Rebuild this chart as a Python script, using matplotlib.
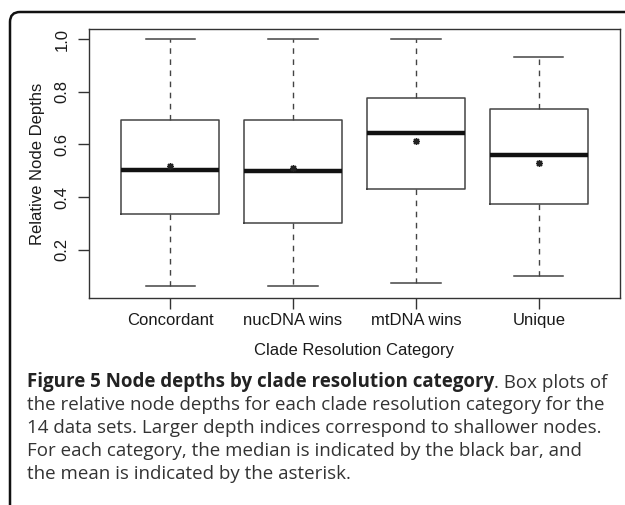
import numpy as np
import matplotlib
matplotlib.use("Agg")
import matplotlib.pyplot as plt
from matplotlib.path import Path
from matplotlib.patches import PathPatch

# Box statistics
categories = ["Concordant", "nucDNA wins", "mtDNA wins", "Unique"]
whislo = [0.063, 0.063, 0.073, 0.102]
q1 = [0.335, 0.302, 0.429, 0.375]
med = [0.502, 0.500, 0.644, 0.558]
q3 = [0.692, 0.692, 0.778, 0.733]
whishi = [1.0, 1.0, 1.0, 0.933]
means = [0.518, 0.509, 0.612, 0.531]

caption_bold = "Figure 5 Node depths by clade resolution category"
caption_lines = [
    ". Box plots of",
    "the relative node depths for each clade resolution category for the",
    "14 data sets. Larger depth indices correspond to shallower nodes.",
    "For each category, the median is indicated by the black bar, and",
    "the mean is indicated by the asterisk.",
]

plt.rcParams['font.family'] = ['Liberation Sans', 'DejaVu Sans']

W, H = 625, 505
fig = plt.figure(figsize=(6.25, 5.05), dpi=100)
ax = fig.add_axes([89/W, 1-298/H, (620-89)/W, (298-29)/H])

stats = []
for i in range(len(categories)):
    stats.append(dict(whislo=whislo[i], q1=q1[i], med=med[i], q3=q3[i],
                      whishi=whishi[i], mean=means[i], fliers=[]))

pos = np.arange(1, len(categories)+1)
edge = '#444444'
ax.bxp(stats, positions=pos, widths=0.8, showmeans=True, patch_artist=False,
       boxprops=dict(color=edge, lw=1.1),
       medianprops=dict(color='#111111', lw=3.2, solid_capstyle='butt'),
       whiskerprops=dict(color=edge, lw=1.0, linestyle=(0, (4, 4))),
       capprops=dict(color=edge, lw=1.1),
       capwidths=0.4,
       meanprops=dict(marker=(8, 2, 0), markersize=5, markeredgecolor='#222222',
                      markerfacecolor='#222222', markeredgewidth=1.0))

ax.set_xlim(0.34, 4.66)
ax.set_ylim(0.017, 1.038)
ax.set_yticks([0.2, 0.4, 0.6, 0.8, 1.0])
ax.set_yticklabels(["0.2", "0.4", "0.6", "0.8", "1.0"])
ax.set_xticks(pos)
ax.set_xticklabels(categories)
for s in ax.spines.values():
    s.set_color('#333333')
    s.set_linewidth(1.0)
ax.tick_params(axis='both', length=8, width=1.0, color='#333333', labelsize=12,
               labelcolor='#1a1a1a')
ax.tick_params(axis='x', pad=2.5)
ax.tick_params(axis='y', pad=6)
for lab in ax.get_yticklabels():
    lab.set_rotation(90)
    lab.set_va('center')
ax.set_xlabel("Clade Resolution Category", fontsize=12, labelpad=11, color='#1a1a1a')
ax.set_ylabel("Relative Node Depths", fontsize=12, labelpad=7, color='#1a1a1a')

# rounded frame round the figure (top and left edges only)
r = 10
verts = [(10/W, 0.0), (10/W, 1-(12+r)/H), (10/W, 1-12/H), ((10+r)/W, 1-12/H), (1.0, 1-12/H)]
codes = [Path.MOVETO, Path.LINETO, Path.CURVE3, Path.CURVE3, Path.LINETO]
fig.patches.append(PathPatch(Path(verts, codes), transform=fig.transFigure,
                             fill=False, lw=1.8, ec='#111111'))

# caption
cfont = ['Open Sans', 'DejaVu Sans']
csize = 13.5
x0 = 27
ys = [382.5, 405, 428, 451, 474]
t = fig.text(x0/W, 1-ys[0]/H, caption_bold, fontsize=csize, family=cfont,
             weight='bold', color='#222222', va='center', ha='left')
fig.canvas.draw()
bb = t.get_window_extent(fig.canvas.get_renderer())
fig.text(bb.x1/W, 1-ys[0]/H, caption_lines[0], fontsize=csize, family=cfont,
         color='#333333', va='center', ha='left')
for y, line in zip(ys[1:], caption_lines[1:]):
    fig.text(x0/W, 1-y/H, line, fontsize=csize, family=cfont,
             color='#333333', va='center', ha='left')

fig.savefig("out.png", dpi=100)
